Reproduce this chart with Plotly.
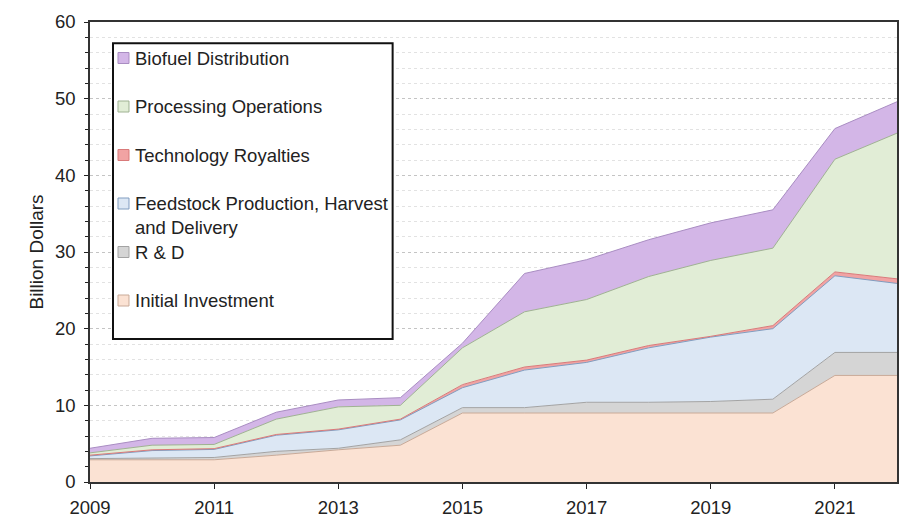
import plotly.graph_objects as go

# Years on the x axis
years = list(range(2009, 2023))

# Annual values per cost component (billion dollars), stacked bottom to top
initial_investment = [2.9, 2.9, 2.9, 3.5, 4.2, 4.8, 9.0, 9.0, 9.0, 9.0, 9.0, 9.0, 13.9, 13.9]
r_and_d = [0.15, 0.2, 0.3, 0.5, 0.2, 0.7, 0.7, 0.7, 1.4, 1.4, 1.5, 1.8, 3.0, 3.0]
feedstock = [0.35, 1.0, 1.05, 2.1, 2.4, 2.6, 2.6, 4.9, 5.2, 7.1, 8.4, 9.2, 10.0, 9.0]
royalties = [0.1, 0.1, 0.1, 0.1, 0.1, 0.1, 0.4, 0.4, 0.3, 0.3, 0.1, 0.4, 0.5, 0.6]
processing = [0.3, 0.6, 0.55, 2.0, 2.9, 1.8, 4.8, 7.2, 7.9, 9.0, 9.9, 10.1, 14.7, 19.0]
distribution = [0.6, 0.9, 0.9, 0.9, 0.9, 1.0, 0.6, 5.0, 5.2, 4.8, 4.9, 5.0, 4.0, 4.1]

series_names = [
    "Initial Investment",
    "R & D",
    "Feedstock Production, Harvest<br>and Delivery",
    "Technology Royalties",
    "Processing Operations",
    "Biofuel Distribution",
]
series_values = [initial_investment, r_and_d, feedstock, royalties, processing, distribution]
fill_colors = ["#fbe2d3", "#d5d5d5", "#dce7f4", "#f1a3a3", "#e1edd6", "#d3b6e7"]
edge_colors = ["#c9aa98", "#a3a3a3", "#809dc0", "#d97a7a", "#9fb292", "#a98dc2"]

x_ticks = [2009, 2011, 2013, 2015, 2017, 2019, 2021]

FONT = "Liberation Sans, Arial, sans-serif"
TEXT = "#222222"

fig = go.Figure()
for name, vals, fc, ec in zip(series_names, series_values, fill_colors, edge_colors):
    fig.add_trace(go.Scatter(
        x=years, y=vals, name=name, mode="lines",
        stackgroup="costs", fillcolor=fc,
        line=dict(color=ec, width=1),
        showlegend=False,
    ))

# Boxed legend in the upper-left of the plot, top entry = top layer
box_left, box_right = 0.0285, 0.375
box_top, box_bottom = 0.954, 0.311
fig.add_shape(type="rect", xref="paper", yref="paper",
              x0=box_left, x1=box_right, y0=box_bottom, y1=box_top,
              line=dict(color="#111111", width=2), fillcolor="white", layer="above")

row_step = 48.5 / 460.0
first_row = (482 - 58) / 460.0
sw_w, sw_h = 11 / 807.0, 11 / 460.0
for i, idx in enumerate(reversed(range(len(series_names)))):
    yc = first_row - i * row_step
    fig.add_shape(type="rect", xref="paper", yref="paper",
                  x0=box_left + 5 / 807.0, x1=box_left + 5 / 807.0 + sw_w,
                  y0=yc - sw_h / 2, y1=yc + sw_h / 2,
                  fillcolor=fill_colors[idx], line=dict(color=edge_colors[idx], width=1),
                  layer="above")
    fig.add_annotation(xref="paper", yref="paper",
                       x=box_left + 20 / 807.0, y=yc + 12.5 / 460.0,
                       xanchor="left", yanchor="top", align="left",
                       text=series_names[idx], showarrow=False,
                       font=dict(family=FONT, size=18.5, color=TEXT))

fig.update_layout(
    width=913, height=517,
    margin=dict(l=90, r=16, t=22, b=35),
    paper_bgcolor="white", plot_bgcolor="white",
    font=dict(family=FONT, size=18.5, color=TEXT),
)

fig.update_xaxes(
    range=[2009, 2022], tickvals=x_ticks, ticktext=[str(t) for t in x_ticks],
    ticks="outside", ticklen=5, tickcolor=TEXT, ticklabelstandoff=3,
    showgrid=False, zeroline=False, automargin=False,
    showline=True, linecolor="#333333", linewidth=1.5, mirror=True,
    tickfont=dict(family=FONT, size=18.5, color=TEXT),
)
fig.update_yaxes(
    range=[0, 60], dtick=10, tick0=0,
    ticks="outside", ticklen=4, tickcolor=TEXT, ticklabelstandoff=5,
    showgrid=True, gridcolor="#c4c4c4", griddash="dot", gridwidth=1,
    minor=dict(dtick=2, showgrid=True, gridcolor="#e2e2e2", gridwidth=1,
               ticks="outside", ticklen=3, tickcolor=TEXT),
    zeroline=False, automargin=False,
    showline=True, linecolor="#333333", linewidth=1.5, mirror=True,
    title=dict(text="Billion Dollars", font=dict(family=FONT, size=19, color=TEXT), standoff=6),
    tickfont=dict(family=FONT, size=18.5, color=TEXT),
)

fig.write_html("out.html")
